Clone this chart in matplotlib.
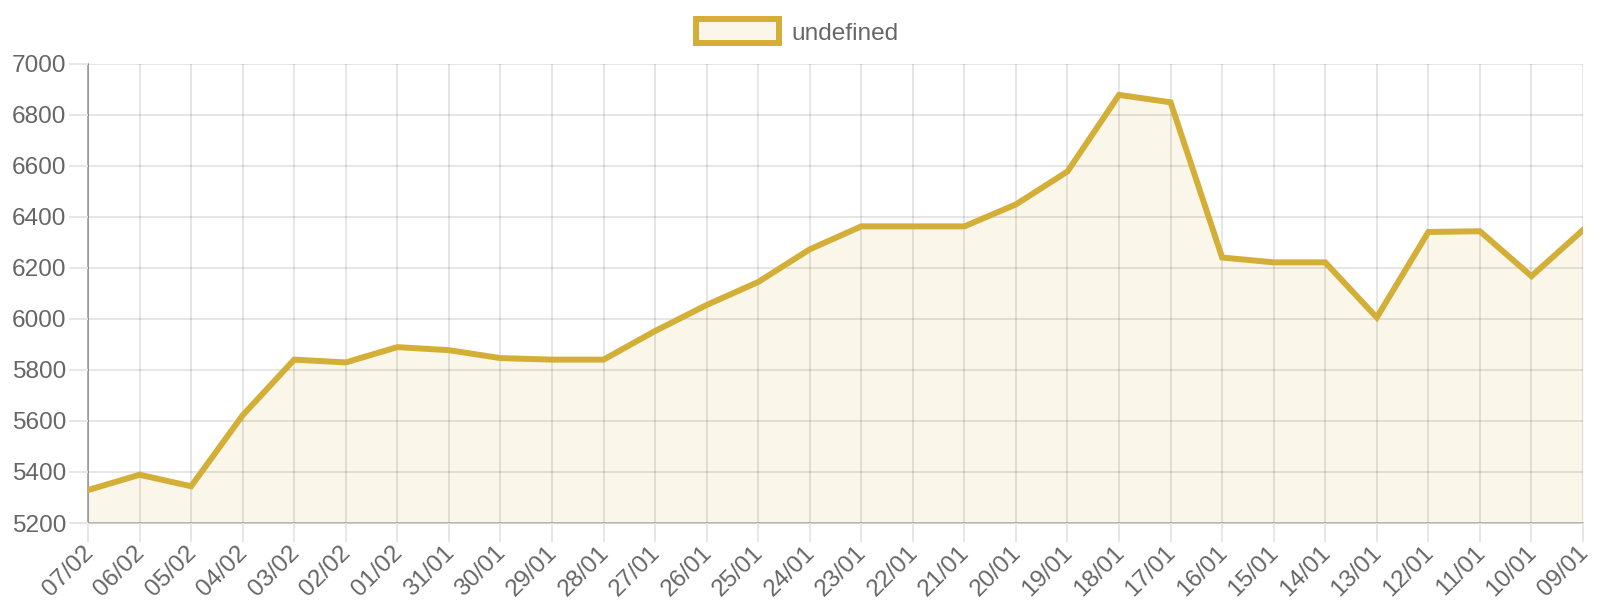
import matplotlib
matplotlib.use('Agg')
import matplotlib.pyplot as plt
from matplotlib.patches import Patch

plt.rcParams['font.family'] = ['Liberation Sans', 'DejaVu Sans']

dates = ['07/02', '06/02', '05/02', '04/02', '03/02', '02/02', '01/02', '31/01',
         '30/01', '29/01', '28/01', '27/01', '26/01', '25/01', '24/01', '23/01',
         '22/01', '21/01', '20/01', '19/01', '18/01', '17/01', '16/01', '15/01',
         '14/01', '13/01', '12/01', '11/01', '10/01', '09/01']
values = [5329, 5389, 5344, 5622, 5840, 5829, 5889, 5877,
          5846, 5840, 5840, 5952, 6054, 6144, 6272, 6362,
          6362, 6362, 6448, 6577, 6877, 6848, 6240, 6221,
          6221, 6005, 6340, 6343, 6167, 6348]
yticks = list(range(5200, 7001, 200))

gold = '#d4af37'
text_col = '#666666'
fs = 17.6  # ~24px

fig = plt.figure(figsize=(16, 6), dpi=100)
ax = fig.add_axes([88/1600, 1 - 523/600, (1583 - 88)/1600, (523 - 63.5)/600])

x = list(range(len(dates)))
ax.fill_between(x, values, 5200, color=gold, alpha=0.1, linewidth=0)
ax.plot(x, values, color=gold, linewidth=4.3, solid_joinstyle='miter', zorder=3)

ax.set_xlim(0, len(dates) - 1)
ax.set_ylim(5200, 7000)
ax.set_xticks(x)
ax.set_xticklabels(dates, rotation=45, ha='right', va='center_baseline',
                   rotation_mode='anchor')
ax.set_yticks(yticks)
ax.set_yticklabels([str(v) for v in yticks])

ax.grid(True, color='black', alpha=0.1, linewidth=1.4)
ax.set_axisbelow(False)
ax.tick_params(axis='both', length=14, width=1.4, color='#e6e6e6',
               labelsize=fs, labelcolor=text_col)
ax.tick_params(axis='x', pad=4)
ax.tick_params(axis='y', pad=1.5)

for s in ['top', 'right']:
    ax.spines[s].set_visible(False)
ax.spines['left'].set_color('#aaaaaa')
ax.spines['left'].set_linewidth(1.4)
ax.spines['bottom'].set_color('#cccccc')
ax.spines['bottom'].set_linewidth(1.4)

handle = Patch(facecolor=(212/255, 175/255, 55/255, 0.1), edgecolor=gold, linewidth=4.3)
fig.legend([handle], ['undefined'], loc='center', bbox_to_anchor=(797/1600, 1 - 32/600),
           frameon=False, fontsize=fs, labelcolor=text_col, handlelength=3.4,
           handleheight=1.1, handletextpad=0.5, borderpad=0)

plt.savefig('out.png', dpi=100)
